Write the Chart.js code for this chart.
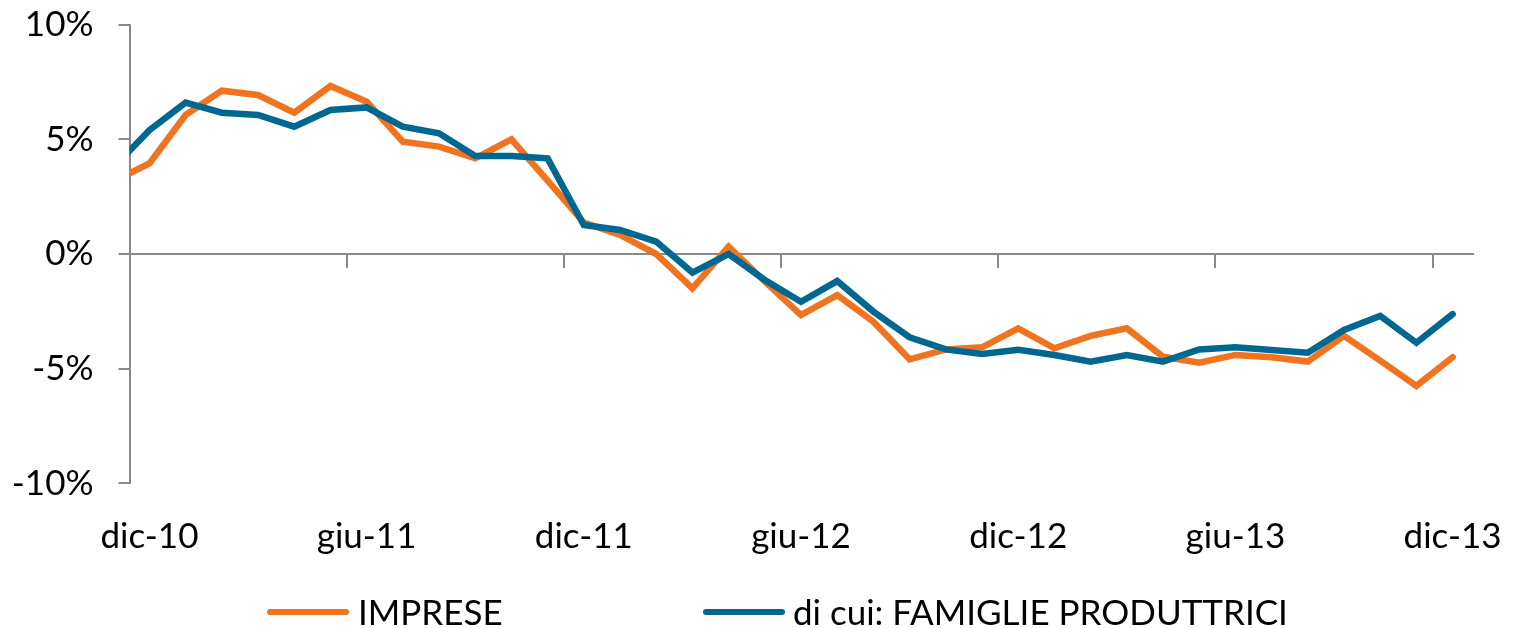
<!DOCTYPE html>
<html>
<head>
<meta charset="utf-8">
<script src="https://cdn.jsdelivr.net/npm/chart.js@4"></script>
<style>
  html, body { margin: 0; padding: 0; background: #fff; }
  #wrap { position: relative; width: 1513px; height: 628px; overflow: hidden; }
  .leg { position: absolute; font-family: Lato, sans-serif; font-size: 35px; line-height: 35px; color: #000; white-space: nowrap; }
  .swatch { position: absolute; height: 6px; border-radius: 3px; }
</style>
</head>
<body>
<div id="wrap">
  <canvas id="chart" width="1513" height="628"></canvas>
</div>
<script>
const months = [
  "nov-10", "dic-10", "gen-11", "feb-11", "mar-11", "apr-11", "mag-11", "giu-11",
  "lug-11", "ago-11", "set-11", "ott-11", "nov-11", "dic-11", "gen-12", "feb-12",
  "mar-12", "apr-12", "mag-12", "giu-12", "lug-12", "ago-12", "set-12", "ott-12",
  "nov-12", "dic-12", "gen-13", "feb-13", "mar-13", "apr-13", "mag-13", "giu-13",
  "lug-13", "ago-13", "set-13", "ott-13", "nov-13", "dic-13"
];
const imprese = [
  3.16, 3.95, 6.06, 7.12, 6.93, 6.16, 7.32, 6.64, 4.90, 4.68, 4.17, 5.00, 3.20,
  1.37, 0.83, 0.00, -1.50, 0.32, -1.20, -2.66, -1.79, -2.95, -4.59, -4.16, -4.07,
  -3.24, -4.11, -3.57, -3.24, -4.48, -4.74, -4.40, -4.50, -4.69, -3.57, -4.65, -5.75, -4.50
];
const famiglie = [
  3.76, 5.40, 6.60, 6.16, 6.06, 5.55, 6.28, 6.39, 5.55, 5.26, 4.27, 4.27, 4.17,
  1.26, 1.05, 0.54, -0.81, 0.00, -1.13, -2.08, -1.18, -2.51, -3.63, -4.16, -4.36,
  -4.18, -4.40, -4.69, -4.40, -4.69, -4.16, -4.07, -4.18, -4.30, -3.31, -2.70, -3.87, -2.62
];
const seriesNames = ["IMPRESE", "di cui: FAMIGLIE PRODUTTRICI"];
const yTicks = [-10, -5, 0, 5, 10];
// month labels shown under the axis (dic / giu)
const labelMonths = ["dic-10", "giu-11", "dic-11", "giu-12", "dic-12", "giu-13", "dic-13"];

const ORANGE = "#F07320";
const BLUE = "#006890";
const GREY = "#898989";
const X_MIN = 0.45, X_MAX = 37.55;
const FONT = { family: "Lato", size: 35 };

const toPoints = (arr) => arr.map((v, i) => ({ x: i, y: v }));
const labelValues = labelMonths.map((m) => months.indexOf(m));

new Chart(document.getElementById("chart"), {
  type: "line",
  data: {
    datasets: [
      {
        label: seriesNames[0],
        data: toPoints(imprese),
        borderColor: ORANGE,
        borderWidth: 6.5,
        borderCapStyle: "round",
        pointRadius: 0,
        clip: { left: 0, top: 10, right: 10, bottom: 10 },
        order: 2,
      },
      {
        label: seriesNames[1],
        data: toPoints(famiglie),
        borderColor: BLUE,
        borderWidth: 6.5,
        borderCapStyle: "round",
        pointRadius: 0,
        clip: { left: 0, top: 10, right: 10, bottom: 10 },
        order: 1,
      },
    ],
  },
  options: {
    responsive: false,
    animation: false,
    devicePixelRatio: 1,
    layout: { padding: { left: 0, right: 40.5, top: 24.6, bottom: 0 } },
    plugins: { legend: { display: false }, tooltip: { enabled: false } },
    scales: {
      x: {
        type: "linear",
        position: "bottom",
        min: X_MIN,
        max: X_MAX,
        afterBuildTicks: (s) => { s.ticks = labelValues.map((v) => ({ value: v })); },
        afterFit: (s) => { s.height = 144.6; s.paddingLeft = 0; s.paddingRight = 0; },
        grid: { display: false },
        border: { display: false },
        ticks: {
          callback: (v) => months[v],
          font: FONT,
          color: "#000",
          padding: 24,
          maxRotation: 0,
          autoSkip: false,
        },
      },
      x2: {
        type: "linear",
        axis: "x",
        position: { y: 0 },
        min: X_MIN,
        max: X_MAX,
        afterBuildTicks: (s) => { s.ticks = labelValues.map((v) => ({ value: v - 0.55 })); },
        afterFit: (s) => { s.paddingLeft = 0; s.paddingRight = 0; },
        grid: { drawOnChartArea: false, drawTicks: true, tickLength: 13, color: GREY, lineWidth: 2 },
        border: { display: true, color: GREY, width: 2 },
        ticks: { display: false },
      },
      y: {
        min: -10,
        max: 10,
        afterBuildTicks: (s) => { s.ticks = yTicks.map((v) => ({ value: v })); },
        afterFit: (s) => { s.width = 129.5; s.paddingTop = 0; s.paddingBottom = 0; },
        grid: { drawOnChartArea: false, drawTicks: true, tickLength: 11, color: GREY, lineWidth: 2 },
        border: { display: true, color: GREY, width: 2 },
        ticks: {
          callback: (v) => v + "%",
          font: FONT,
          color: "#000",
          padding: 25,
        },
      },
    },
  },
});

// legend below the plot
const wrap = document.getElementById("wrap");
const legendItems = [
  { name: seriesNames[0], color: ORANGE, lineLeft: 267, textLeft: 358 },
  { name: seriesNames[1], color: BLUE, lineLeft: 703, textLeft: 793 },
];
legendItems.forEach((it) => {
  const sw = document.createElement("div");
  sw.className = "swatch";
  sw.style.cssText = `left:${it.lineLeft}px;top:609px;width:82px;background:${it.color}`;
  wrap.appendChild(sw);
  const tx = document.createElement("div");
  tx.className = "leg";
  tx.style.cssText = `left:${it.textLeft}px;top:594px`;
  tx.textContent = it.name;
  wrap.appendChild(tx);
});
</script>
</body>
</html>
